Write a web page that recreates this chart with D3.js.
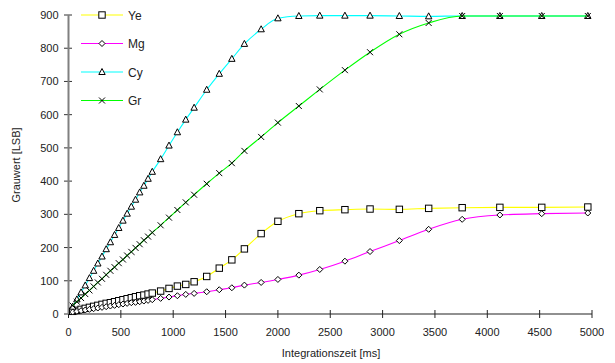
<!DOCTYPE html>
<html>
<head>
<meta charset="utf-8">
<script src="https://cdn.jsdelivr.net/npm/d3@7"></script>
<style>
  body { margin: 0; background: #fff; }
  text { font-family: "Liberation Sans", Arial, sans-serif; fill: #222; }
</style>
</head>
<body>
<script>
// integration times [ms]
var times = [40, 80, 120, 160, 200, 240, 280, 320, 360, 400, 440, 480, 520, 560, 600, 640, 680, 720, 760, 800,
    880, 960, 1040, 1120, 1200, 1320, 1440, 1560, 1680, 1840, 2000, 2200, 2400, 2640, 2880, 3160, 3440, 3760, 4120, 4520, 4960];

var ye = [8, 11, 14, 17, 20, 23, 26, 29, 32, 34, 37, 40, 43, 46, 49, 52, 55, 57, 60, 63,
    69, 77, 84, 89, 97, 113, 138, 163, 196, 242, 279, 302, 311, 314, 316, 315, 318, 320, 321, 321, 322];
var mg = [6, 8, 10, 12, 14, 16, 18, 20, 22, 24, 26, 28, 30, 32, 34, 35, 37, 39, 41, 43,
    47, 51, 55, 59, 62, 67, 73, 79, 87, 95, 104, 117, 134, 159, 188, 221, 255, 285, 298, 302, 304];
var cy = [22, 44, 65, 86, 108, 130, 152, 173, 195, 216, 238, 259, 281, 302, 323, 344, 366, 386, 407, 428,
    466, 507, 547, 585, 621, 675, 723, 768, 813, 857, 890, 897, 898, 898, 898, 897, 896, 897, 897, 897, 897];
var gr = [25, 37, 48, 60, 71, 83, 95, 106, 118, 130, 141, 153, 164, 176, 187, 199, 210, 222, 233, 245,
    267, 290, 313, 336, 359, 392, 424, 454, 491, 533, 576, 626, 676, 734, 788, 842, 876, 897, 897, 897, 897];

var seriesNames = ["Ye", "Mg", "Cy", "Gr"];
var seriesValues = [ye, mg, cy, gr];
var seriesColors = ["#ffff00", "#ff00ff", "#00ffff", "#00ff00"];
var seriesMarkers = ["square", "diamond", "triangle", "cross"];

var xTicks = [0, 500, 1000, 1500, 2000, 2500, 3000, 3500, 4000, 4500, 5000];
var yTicks = [0, 100, 200, 300, 400, 500, 600, 700, 800, 900];

var W = 615, H = 363;
var svg = d3.select("body").append("svg").attr("width", W).attr("height", H);

// the original picture is cut off just right of the last tick label
svg.append("clipPath").attr("id", "pic").append("rect")
    .attr("x", 0).attr("y", 0).attr("width", 604).attr("height", H);
var root = svg.append("g").attr("clip-path", "url(#pic)");

var x = d3.scaleLinear().domain([0, 5000]).range([68.5, 592]);
var y = d3.scaleLinear().domain([0, 900]).range([314, 15]);

// axes
var xAxis = root.append("g");
xAxis.append("line").attr("x1", x(0)).attr("x2", x(5000)).attr("y1", y(0)).attr("y2", y(0))
    .attr("stroke", "#222").attr("stroke-width", 1.2);
xAxis.selectAll("line.tick").data(xTicks).enter().append("line").attr("class", "tick")
    .attr("x1", function(d) { return x(d); }).attr("x2", function(d) { return x(d); })
    .attr("y1", y(0) - 4).attr("y2", y(0) + 4).attr("stroke", "#222");
xAxis.selectAll("text").data(xTicks).enter().append("text")
    .attr("x", function(d) { return x(d); }).attr("y", y(0) + 22)
    .attr("text-anchor", "middle").attr("font-size", 11)
    .text(function(d) { return d; });

var yAxis = root.append("g");
yAxis.selectAll("line.tick").data(yTicks).enter().append("line").attr("class", "tick")
    .attr("x1", x(0) - 4.5).attr("x2", x(0) + 3.5)
    .attr("y1", function(d) { return y(d); }).attr("y2", function(d) { return y(d); })
    .attr("stroke", "#333");
yAxis.append("line").attr("x1", x(0)).attr("x2", x(0)).attr("y1", y(0)).attr("y2", y(900))
    .attr("stroke", "#808080").attr("stroke-width", 2);
yAxis.selectAll("text").data(yTicks).enter().append("text")
    .attr("x", x(0) - 10).attr("y", function(d) { return y(d) + 4; })
    .attr("text-anchor", "end").attr("font-size", 11)
    .text(function(d) { return d; });

root.append("text").attr("x", 331).attr("y", 357).attr("text-anchor", "middle")
    .attr("font-size", 11).text("Integrationszeit [ms]");
root.append("text").attr("transform", "translate(20,165) rotate(-90)").attr("text-anchor", "middle")
    .attr("font-size", 11).text("Grauwert [LSB]");

function drawMarker(g, type, cx, cy) {
    if (type === "square") {
        g.append("rect").attr("x", cx - 3.2).attr("y", cy - 3.2).attr("width", 6.4).attr("height", 6.4)
            .attr("fill", "#fff").attr("stroke", "#000").attr("stroke-width", 1);
    } else if (type === "diamond") {
        g.append("path").attr("d", "M" + cx + "," + (cy - 3) + "L" + (cx + 3) + "," + cy + "L" + cx + "," + (cy + 3) + "L" + (cx - 3) + "," + cy + "Z")
            .attr("fill", "#fff").attr("stroke", "#000").attr("stroke-width", 1);
    } else if (type === "triangle") {
        g.append("path").attr("d", "M" + cx + "," + (cy - 3.5) + "L" + (cx + 3.2) + "," + (cy + 2.5) + "L" + (cx - 3.2) + "," + (cy + 2.5) + "Z")
            .attr("fill", "#fff").attr("stroke", "#000").attr("stroke-width", 1);
    } else {
        g.append("path").attr("d", "M" + (cx - 3) + "," + (cy - 3) + "L" + (cx + 3) + "," + (cy + 3) + "M" + (cx + 3) + "," + (cy - 3) + "L" + (cx - 3) + "," + (cy + 3))
            .attr("fill", "none").attr("stroke", "#000").attr("stroke-width", 1);
    }
}

var line = d3.line()
    .x(function(d) { return x(d[0]); })
    .y(function(d) { return y(d[1]); })
    .curve(d3.curveMonotoneX);

seriesNames.forEach(function(name, i) {
    var pts = times.map(function(t, j) { return [t, seriesValues[i][j]]; });
    var g = root.append("g");
    g.append("path").attr("d", line(pts)).attr("fill", "none")
        .attr("stroke", seriesColors[i]).attr("stroke-width", 1.1);
    pts.forEach(function(p) { drawMarker(g, seriesMarkers[i], x(p[0]), y(p[1])); });
});

// legend
var legend = root.append("g");
seriesNames.forEach(function(name, i) {
    var ly = 15 + i * 28.5;
    legend.append("line").attr("x1", 81).attr("x2", 123).attr("y1", ly).attr("y2", ly)
        .attr("stroke", seriesColors[i]).attr("stroke-width", 1.1);
    drawMarker(legend, seriesMarkers[i], 102, ly);
    legend.append("text").attr("x", 128).attr("y", ly + 4.5).attr("font-size", 12).text(name);
});
</script>
</body>
</html>
